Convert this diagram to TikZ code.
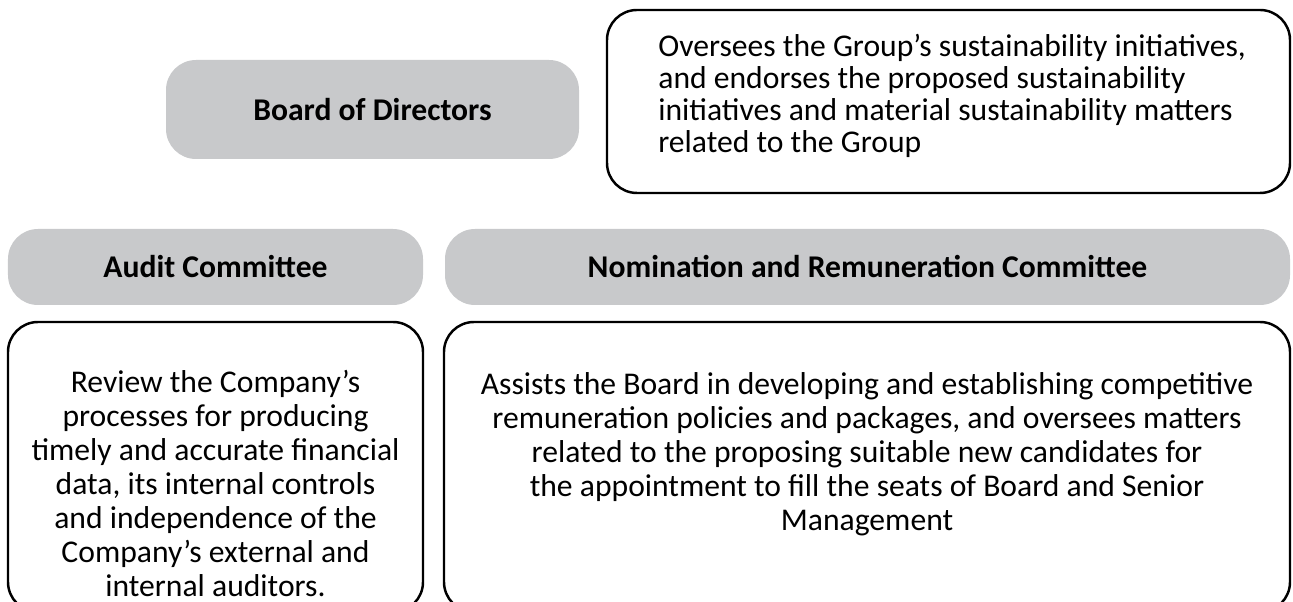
\documentclass[tikz,border=0pt]{standalone}
\usepackage{fontspec}
\setmainfont{Carlito}
\definecolor{boardgray}{RGB}{200,201,203}
\tikzset{
  graybox/.style={fill=boardgray, draw=none, rounded corners=0.6cm, inner sep=0pt},
  whitebox/.style={draw=black, line width=1.4pt, rounded corners=0.6cm, inner sep=0pt},
  headtext/.style={font=\bfseries, inner sep=0pt},
  bodytext/.style={align=center, inner sep=0pt}
}
\begin{document}
\begin{tikzpicture}
  \clip (0,0) rectangle (25.860000,12.040000);
  {\fontsize{18}{19.4}\selectfont

  % Board of Directors
  \node [graybox, minimum width=8.260000cm, minimum height=1.980000cm] (board) at (7.450000,9.850000) {};%
  \node [headtext] (boardlabel) at (board.center) {Board of Directors};%

  % Board role
  \node [whitebox, minimum width=13.660000cm, minimum height=3.660000cm] (boardbox) at (18.970000,10.010000) {};%
  \node [bodytext, align=left, anchor=west, font=\fontsize{18}{18.2}\selectfont] (boardrole) at (13.160000,10.120000)
    {Oversees the Group’s sustainability initiatives,\\
     and endorses the proposed sustainability\\
     initiatives and material sustainability matters\\
     related to the Group};%

  % Audit Committee
  \node [graybox, minimum width=8.300000cm, minimum height=1.520000cm] (audit) at (4.310000,6.700000) {};%
  \node [headtext] (auditlabel) at (audit.center) {Audit Committee};%

  % Nomination and Remuneration Committee
  \node [graybox, minimum width=16.900000cm, minimum height=1.520000cm] (nrc) at (17.350000,6.700000) {};%
  \node [headtext] (nrclabel) at (nrc.center) {Nomination and Remuneration Committee};%

  % Audit role
  \node [whitebox, minimum width=8.300000cm, minimum height=5.800000cm] (auditbox) at (4.310000,2.700000) {};%
  \node [bodytext] (auditrole) at (4.310000,2.370000)
    {Review the Company’s\\
     processes for producing\\
     timely and accurate financial\\
     data, its internal controls\\
     and independence of the\\
     Company’s external and\\
     internal auditors.};%

  % Nomination and Remuneration role
  \node [whitebox, minimum width=16.920000cm, minimum height=5.800000cm] (nrcbox) at (17.340000,2.700000) {};%
  \node [bodytext] (nrcrole) at (17.340000,2.960000)
    {Assists the Board in developing and establishing competitive\\
     remuneration policies and packages, and oversees matters\\
     related to the proposing suitable new candidates for\\
     the appointment to fill the seats of Board and Senior\\
     Management};%
  }
\end{tikzpicture}
\end{document}
